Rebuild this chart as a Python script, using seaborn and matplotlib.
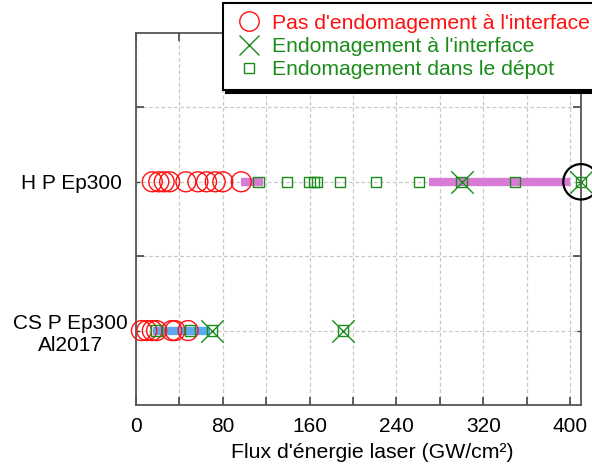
import matplotlib
matplotlib.use('Agg')
import matplotlib.pyplot as plt
from matplotlib.lines import Line2D
import seaborn as sns
import pandas as pd

# ============================================================
# Data (flux in GW/cm²)
# ============================================================
H_ROW = 'H P Ep300 '
CS_ROW = 'CS P Ep300\nAl2017'
ROW_Y = {CS_ROW: 1, H_ROW: 3}

# H P Ep300
h_no_damage = [15, 21, 26, 31, 46, 57, 65, 73, 80, 97]
h_interface = [300, 410]
h_deposit = [113, 139, 160, 164, 167, 188, 221, 261, 300, 349, 410]
h_ranges = [(97, 117), (270, 400)]
h_threshold = [410]

# CS P Ep300 Al2017
cs_no_damage = [5, 10, 15, 19, 33, 36, 48]
cs_interface = [70, 191]
cs_deposit = [19, 50, 70, 191]
cs_ranges = [(16, 68)]

RED = '#ff1010'
GREEN = '#1a8c1a'

def make_df(values, row):
    return pd.DataFrame({'flux': values, 'y': [ROW_Y[row]] * len(values)})

no_damage = pd.concat([make_df(h_no_damage, H_ROW), make_df(cs_no_damage, CS_ROW)])
interface = pd.concat([make_df(h_interface, H_ROW), make_df(cs_interface, CS_ROW)])
deposit = pd.concat([make_df(h_deposit, H_ROW), make_df(cs_deposit, CS_ROW)])
threshold = make_df(h_threshold, H_ROW)

# ============================================================
# Plot
# ============================================================
sns.set_style('ticks')
plt.rcParams['font.family'] = ['Liberation Sans', 'DejaVu Sans']
plt.rcParams['text.color'] = 'black'
plt.rcParams['axes.labelcolor'] = 'black'
plt.rcParams['xtick.labelcolor'] = 'black'
plt.rcParams['ytick.labelcolor'] = 'black'

fig = plt.figure(figsize=(5.92, 4.67), dpi=100)
ax = fig.add_axes([0.2297, 0.1328, 0.7517, 0.7965])

# shaded ranges
for lo, hi in h_ranges:
    ax.plot([lo, hi], [ROW_Y[H_ROW]] * 2, color='#d87bd6', lw=6,
            solid_capstyle='butt', zorder=2)
for lo, hi in cs_ranges:
    ax.plot([lo, hi], [ROW_Y[CS_ROW]] * 2, color='#5aa9f2', lw=6,
            solid_capstyle='butt', zorder=2)

sns.scatterplot(data=no_damage, x='flux', y='y', ax=ax, marker='o', s=205,
                facecolors='none', edgecolor=RED, linewidth=1.0, zorder=3,
                clip_on=False)
sns.scatterplot(data=deposit, x='flux', y='y', ax=ax, marker='s', s=55,
                facecolors='none', edgecolor=GREEN, linewidth=1.0, zorder=4,
                clip_on=False)
sns.scatterplot(data=interface, x='flux', y='y', ax=ax, marker='x', s=260,
                color=GREEN, linewidth=1.0, zorder=5, clip_on=False)
sns.scatterplot(data=threshold, x='flux', y='y', ax=ax, marker='o', s=650,
                facecolors='none', edgecolor='black', linewidth=1.6, zorder=6,
                clip_on=False)

ax.set_xlim(0, 410)
ax.set_ylim(0, 5)

xt = list(range(0, 401, 40))
ax.set_xticks(xt)
ax.set_xticklabels([str(v) if v % 80 == 0 else '' for v in xt], fontsize=15)
ax.set_yticks([2, 4])
ax.set_yticklabels(['', ''])
ax.set_yticks([1, 3], minor=True)
ax.set_yticklabels(list(ROW_Y.keys()), minor=True, fontsize=15,
                   multialignment='center')
ax.tick_params(axis='both', which='major', direction='in', length=6,
               width=1.2, color='#444444', top=True, right=True, pad=9)
ax.tick_params(axis='y', which='minor', direction='in', length=3,
               width=1.0, color='#444444', right=True, pad=6)
ax.grid(True, which='both', linestyle=(0, (3, 2)), color='#c8c8c8', lw=0.9)
ax.set_axisbelow(True)

for side in ['left', 'bottom', 'top', 'right']:
    ax.spines[side].set_color('#555555')
    ax.spines[side].set_linewidth(1.3)

ax.set_xlabel("Flux d'énergie laser (GW/cm²)", fontsize=15.3, labelpad=5, x=0.53)
ax.set_ylabel('')

handles = [
    Line2D([], [], marker='o', ls='none', mfc='none', mec=RED, ms=14, mew=1.0),
    Line2D([], [], marker='x', ls='none', color=GREEN, ms=15, mew=1.0),
    Line2D([], [], marker='s', ls='none', mfc='none', mec=GREEN, ms=7, mew=1.0),
]
labels = ["Pas d'endomagement à l'interface",
          "Endomagement à l'interface",
          'Endomagement dans le dépot']
leg = fig.legend(handles, labels, loc='upper left', bbox_to_anchor=(0.377, 0.993),
                 fontsize=15.2, frameon=True, fancybox=False,
                 shadow={'color': 'black', 'alpha': 1.0},
                 borderpad=0.5, labelspacing=0.2, handletextpad=0.4,
                 handlelength=1.4, borderaxespad=0.0)
leg.get_frame().set_edgecolor('black')
leg.get_frame().set_linewidth(1.5)
for txt, c in zip(leg.get_texts(), [RED, GREEN, GREEN]):
    txt.set_color(c)

fig.savefig('out.png', dpi=100)
